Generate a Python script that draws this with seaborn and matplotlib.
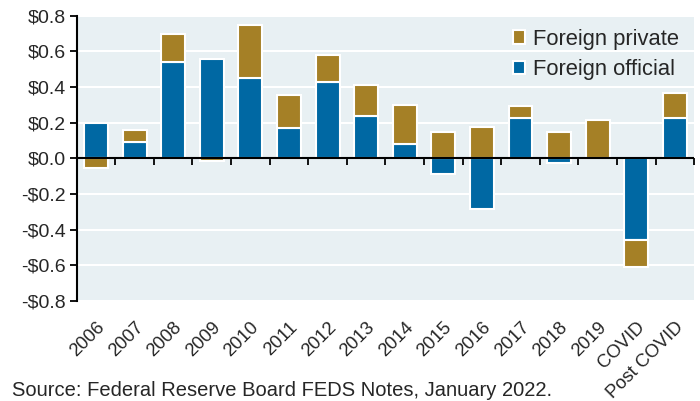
import matplotlib
matplotlib.use("Agg")
import matplotlib.pyplot as plt
import matplotlib.ticker as mtick
import numpy as np
import pandas as pd
import seaborn as sns

BG = "#E8F0F3"
GOLD = "#A58026"
BLUE = "#0068A3"

categories = ["2006", "2007", "2008", "2009", "2010", "2011", "2012", "2013",
              "2014", "2015", "2016", "2017", "2018", "2019", "COVID", "Post COVID"]
official = [0.20, 0.09, 0.54, 0.56, 0.45, 0.17, 0.43, 0.24,
            0.08, -0.09, -0.285, 0.225, -0.025, 0.0, -0.46, 0.225]
private = [-0.055, 0.07, 0.16, -0.015, 0.30, 0.185, 0.15, 0.17,
           0.22, 0.145, 0.175, 0.07, 0.145, 0.215, -0.15, 0.14]
y_ticks = [-0.8, -0.6, -0.4, -0.2, 0.0, 0.2, 0.4, 0.6, 0.8]

df = pd.DataFrame({"period": categories, "official": official, "private": private})
# private stacks on official when same sign, otherwise it starts from zero
same_sign = np.sign(df["private"]) == np.sign(df["official"])
df["private_base"] = np.where(same_sign, df["official"], 0.0)

sns.set_style("white", {"axes.facecolor": BG, "grid.color": "white"})
plt.rcParams["font.family"] = ["Liberation Sans", "DejaVu Sans"]

fig = plt.figure(figsize=(7, 4.01), dpi=100)
ax = fig.add_axes([0.1096, 0.250, 0.882, 0.7107])

sns.barplot(data=df, x="period", y="official", color=BLUE, saturation=1,
            width=0.62, edgecolor="white", linewidth=1.5, ax=ax,
            label="Foreign official", zorder=2)
sns.barplot(data=df, x="period", y="private", color=GOLD, saturation=1,
            width=0.62, edgecolor="white", linewidth=1.5, ax=ax,
            bottom=df["private_base"].values, label="Foreign private", zorder=2)

ax.set_xlim(-0.5, len(categories) - 0.5)
ax.set_ylim(-0.8, 0.8)
ax.set_yticks(y_ticks)
ax.yaxis.set_major_formatter(mtick.FuncFormatter(
    lambda v, _: f"-${abs(v):.1f}" if v < -1e-9 else f"${abs(v):.1f}"))
ax.yaxis.grid(True, color="white", linewidth=1.5, zorder=0)
ax.set_axisbelow(True)
ax.set_xlabel("")
ax.set_ylabel("")
ax.axhline(0, color="black", linewidth=1.5, zorder=3)

ax.set_xticks(range(len(categories)))
ax.set_xticklabels(categories, rotation=45, ha="right", rotation_mode="anchor")
ax.tick_params(axis="x", length=0, pad=13, labelsize=13.3)
ax.tick_params(axis="y", direction="out", length=5, width=1.3, labelsize=14,
               color="black", left=True, pad=3)
ax.spines[["top", "right", "bottom"]].set_visible(False)
ax.spines["left"].set_color("black")
ax.spines["left"].set_linewidth(1.5)

# boundary ticks hanging from the zero line
zero = ax.secondary_xaxis(0.5)
zero.set_xticks(np.arange(0.5, len(categories), 1.0))
zero.tick_params(direction="in", length=5, width=1.3, labeltop=False,
                 labelbottom=False, color="black")
for s in zero.spines.values():
    s.set_visible(False)

handles, labels = ax.get_legend_handles_labels()
order = [labels.index("Foreign private"), labels.index("Foreign official")]
ax.legend([handles[i] for i in order], [labels[i] for i in order],
          loc="upper right", frameon=False, fontsize=15.8, handlelength=0.55,
          handleheight=0.55, handletextpad=0.35, labelspacing=0.42,
          borderaxespad=0.0, bbox_to_anchor=(0.99, 0.985))

fig.text(0.017, 0.012, "Source: Federal Reserve Board FEDS Notes, January 2022.",
         fontsize=14.5, ha="left", va="baseline")

fig.savefig("out.png", dpi=100)
